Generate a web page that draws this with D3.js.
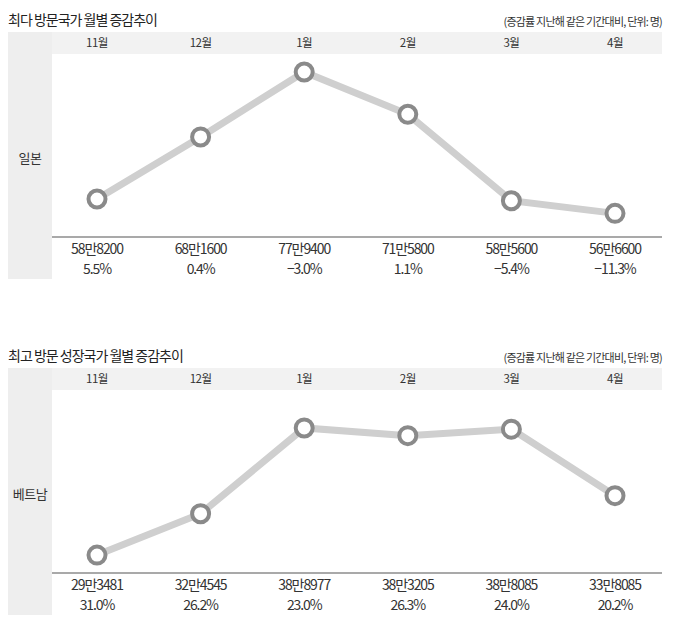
<!DOCTYPE html>
<html>
<head>
<meta charset="utf-8">
<script src="https://cdn.jsdelivr.net/npm/d3@7"></script>
<style>
  body { margin: 0; background: #fff; }
  text { font-family: "Noto Sans CJK KR", "Noto Sans", sans-serif; }
</style>
</head>
<body>
<svg id="chart" width="692" height="634"></svg>
<script>
var months = ['11월', '12월', '1월', '2월', '3월', '4월'];

var japanValues = [588200, 681600, 779400, 715800, 585600, 566600];
var japanLabels = ['58만8200', '68만1600', '77만9400', '71만5800', '58만5600', '56만6600'];
var japanRates = ['5.5%', '0.4%', '−3.0%', '1.1%', '−5.4%', '−11.3%'];

var vietnamValues = [293481, 324545, 388977, 383205, 388085, 338085];
var vietnamLabels = ['29만3481', '32만4545', '38만8977', '38만3205', '38만8085', '33만8085'];
var vietnamRates = ['31.0%', '26.2%', '23.0%', '26.3%', '24.0%', '20.2%'];

var panels = [
  { title: '최다 방문국가 월별 증감추이', country: '일본', values: japanValues,
    labels: japanLabels, rates: japanRates, top: 32, domain: [531000, 806500] },
  { title: '최고 방문 성장국가 월별 증감추이', country: '베트남', values: vietnamValues,
    labels: vietnamLabels, rates: vietnamRates, top: 368, domain: [280000, 417500] }
];

var svg = d3.select('#chart');
var left = 52, right = 662;

var x = d3.scalePoint().domain(months).range([97, 615]);

panels.forEach(function (p) {
  var g = svg.append('g').attr('transform', 'translate(0,' + p.top + ')');
  var headerH = 22, axisY = 205, bandH = 247;

  // title and note
  g.append('text').attr('x', 8).attr('y', -7)
    .attr('font-size', 14).attr('fill', '#222').attr('letter-spacing', -1)
    .text(p.title);
  g.append('text').attr('x', right).attr('y', -6).attr('text-anchor', 'end')
    .attr('font-size', 11).attr('fill', '#333').attr('letter-spacing', -0.8)
    .text('(증감률 지난해 같은 기간대비, 단위: 명)');

  // background bands
  g.append('rect').attr('x', 8).attr('y', 0).attr('width', left - 8).attr('height', bandH)
    .attr('fill', '#eeeeee');
  g.append('rect').attr('x', left).attr('y', 0).attr('width', right - left).attr('height', headerH)
    .attr('fill', '#f2f2f2');

  g.append('text').attr('x', 30).attr('y', axisY / 2 + 25).attr('text-anchor', 'middle')
    .attr('dominant-baseline', 'middle').attr('font-size', 13).attr('fill', '#333')
    .attr('letter-spacing', -0.5)
    .text(p.country);

  // month header
  g.selectAll('.month').data(months).join('text')
    .attr('x', function (d) { return x(d); })
    .attr('y', headerH / 2 + 1)
    .attr('text-anchor', 'middle').attr('dominant-baseline', 'middle')
    .attr('font-size', 11.5).attr('fill', '#333').attr('letter-spacing', -0.5)
    .text(function (d) { return d; });

  var y = d3.scaleLinear().domain(p.domain).range([axisY, headerH]);

  // baseline
  g.append('line').attr('x1', left).attr('x2', right)
    .attr('y1', axisY).attr('y2', axisY)
    .attr('stroke', '#8c8c8c').attr('stroke-width', 1.5);

  var line = d3.line()
    .x(function (d, i) { return x(months[i]); })
    .y(function (d) { return y(d); });

  g.append('path').datum(p.values)
    .attr('d', line).attr('fill', 'none')
    .attr('stroke', '#cfcfcf').attr('stroke-width', 7);

  g.selectAll('.pt').data(p.values).join('circle')
    .attr('cx', function (d, i) { return x(months[i]); })
    .attr('cy', function (d) { return y(d); })
    .attr('r', 8.5)
    .attr('fill', '#fff').attr('stroke', '#8a8a8a').attr('stroke-width', 4);

  g.selectAll('.val').data(p.labels).join('text')
    .attr('x', function (d, i) { return x(months[i]); })
    .attr('y', axisY + 17)
    .attr('text-anchor', 'middle')
    .attr('font-size', 14).attr('fill', '#333').attr('letter-spacing', -1.1)
    .text(function (d) { return d; });

  g.selectAll('.rate').data(p.rates).join('text')
    .attr('x', function (d, i) { return x(months[i]); })
    .attr('y', axisY + 37)
    .attr('text-anchor', 'middle')
    .attr('font-size', 14).attr('fill', '#333').attr('letter-spacing', -1.1)
    .text(function (d) { return d; });
});
</script>
</body>
</html>
